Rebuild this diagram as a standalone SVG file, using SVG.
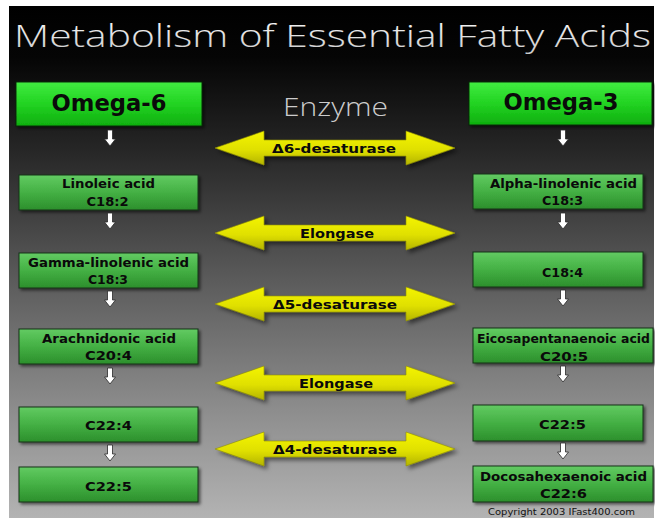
<svg xmlns="http://www.w3.org/2000/svg" width="655" height="518" viewBox="0 0 655 518">
<defs>
<linearGradient id="bg" x1="0" y1="0" x2="0" y2="1">
<stop offset="0" stop-color="#000"/>
<stop offset="0.1" stop-color="#050505"/>
<stop offset="0.28" stop-color="#262626"/>
<stop offset="0.55" stop-color="#5e5e5e"/>
<stop offset="0.8" stop-color="#8f8f8f"/>
<stop offset="1" stop-color="#b3b3b3"/>
</linearGradient>
<linearGradient id="gBox" x1="0" y1="0" x2="0" y2="1">
<stop offset="0" stop-color="#62cb62"/>
<stop offset="0.5" stop-color="#44b044"/>
<stop offset="1" stop-color="#2c8f2c"/>
</linearGradient>
<linearGradient id="gOmega" x1="0" y1="0" x2="0" y2="1">
<stop offset="0" stop-color="#40ec40"/>
<stop offset="0.5" stop-color="#22d322"/>
<stop offset="1" stop-color="#0fae0f"/>
</linearGradient>
<linearGradient id="gYel" x1="0" y1="0" x2="0" y2="1">
<stop offset="0" stop-color="#f4f400"/>
<stop offset="0.55" stop-color="#e0e000"/>
<stop offset="1" stop-color="#b4b400"/>
</linearGradient>
<linearGradient id="gTitle" x1="0" y1="0" x2="0" y2="1">
<stop offset="0" stop-color="#ffffff"/>
<stop offset="1" stop-color="#c8c8c8"/>
</linearGradient>
<filter id="sh" x="-10%" y="-20%" width="130%" height="160%">
<feDropShadow dx="2" dy="2" stdDeviation="1.5" flood-color="#000" flood-opacity="0.55"/>
</filter>
<filter id="shY" x="-10%" y="-30%" width="130%" height="170%">
<feDropShadow dx="3" dy="3" stdDeviation="2" flood-color="#000" flood-opacity="0.5"/>
</filter>
<path id="dbl" d="M-120,0 L-71,-17 L-71,-8 L71,-8 L71,-17 L120,0 L71,17 L71,8 L-71,8 L-71,17 Z"/>
<path id="down" d="M-2.5,0 H2.5 V9 H5.5 L0,16 L-5.5,9 H-2.5 Z"/>
</defs>
<style>
.box{fill:url(#gBox);stroke:#15331a;stroke-width:1;filter:url(#sh)}
.omega{fill:url(#gOmega);stroke:#0c2a0c;stroke-width:1;filter:url(#sh)}
.t{font-family:"DejaVu Sans","Liberation Sans",sans-serif;font-weight:bold;fill:#0a0a0a;text-anchor:middle}
.s12{font-size:12px}
.s13{font-size:13px}
.big{font-size:23px}
.yel{fill:url(#gYel);stroke:#8d8d00;stroke-width:0.6;filter:url(#shY)}
.dn{fill:#fff;stroke:#2a2a2a;stroke-width:0.8}
</style>
<rect x="9" y="6" width="645" height="512" fill="url(#bg)"/>
<text x="14" y="47" font-family="'Open Sans','DejaVu Sans',sans-serif" font-weight="300" font-size="32" fill="url(#gTitle)" textLength="637" lengthAdjust="spacingAndGlyphs">Metabolism of Essential Fatty Acids</text>
<text x="335.5" y="116" font-family="'Open Sans','DejaVu Sans',sans-serif" font-weight="300" font-size="25" fill="#cccccc" text-anchor="middle" textLength="105" lengthAdjust="spacingAndGlyphs">Enzyme</text>

<g id="omega6"><rect class="omega" x="16" y="82" width="186" height="44"/><text class="t big" x="109" y="111" textLength="115" lengthAdjust="spacingAndGlyphs">Omega-6</text></g>
<g id="linoleic"><rect class="box" x="19" y="175" width="179" height="35"/><text class="t s12" x="108.5" y="188" textLength="93" lengthAdjust="spacingAndGlyphs">Linoleic acid</text><text class="t s12" x="107.5" y="205.5" textLength="42" lengthAdjust="spacingAndGlyphs">C18:2</text></g>
<g id="gamma"><rect class="box" x="19" y="253" width="179" height="35"/><text class="t s12" x="108.5" y="267" textLength="161" lengthAdjust="spacingAndGlyphs">Gamma-linolenic acid</text><text class="t s12" x="108" y="284" textLength="40" lengthAdjust="spacingAndGlyphs">C18:3</text></g>
<g id="arachidonic"><rect class="box" x="19" y="329" width="179" height="35"/><text class="t s12" x="109" y="343" textLength="134" lengthAdjust="spacingAndGlyphs">Arachnidonic acid</text><text class="t s12" x="108.5" y="360" textLength="47" lengthAdjust="spacingAndGlyphs">C20:4</text></g>
<g id="c224"><rect class="box" x="19" y="407" width="179" height="35"/><text class="t s13" x="108.5" y="429.5" textLength="47" lengthAdjust="spacingAndGlyphs">C22:4</text></g>
<g id="c225L"><rect class="box" x="19" y="467" width="179" height="35"/><text class="t s13" x="108.5" y="491" textLength="47" lengthAdjust="spacingAndGlyphs">C22:5</text></g>

<g id="omega3"><rect class="omega" x="469" y="82" width="183" height="43"/><text class="t big" x="561" y="110" textLength="115" lengthAdjust="spacingAndGlyphs">Omega-3</text></g>
<g id="alpha"><rect class="box" x="473" y="174" width="170" height="35"/><text class="t s12" x="563.5" y="188" textLength="147" lengthAdjust="spacingAndGlyphs">Alpha-linolenic acid</text><text class="t s12" x="562.5" y="205" textLength="41" lengthAdjust="spacingAndGlyphs">C18:3</text></g>
<g id="c184"><rect class="box" x="473" y="252" width="170" height="35"/><text class="t s13" x="562.5" y="277" textLength="41" lengthAdjust="spacingAndGlyphs">C18:4</text></g>
<g id="epa"><rect class="box" x="473" y="328" width="180" height="35"/><text class="t s12" x="563.5" y="343" textLength="173" lengthAdjust="spacingAndGlyphs">Eicosapentanaenoic acid</text><text class="t s12" x="564" y="360.5" textLength="48" lengthAdjust="spacingAndGlyphs">C20:5</text></g>
<g id="c225R"><rect class="box" x="473" y="405" width="170" height="36"/><text class="t s13" x="562.5" y="429" textLength="47" lengthAdjust="spacingAndGlyphs">C22:5</text></g>
<g id="dha"><rect class="box" x="473" y="466" width="180" height="36"/><text class="t s13" x="563.5" y="481" textLength="167" lengthAdjust="spacingAndGlyphs">Docosahexaenoic acid</text><text class="t s13" x="563.5" y="497.5" textLength="47" lengthAdjust="spacingAndGlyphs">C22:6</text></g>

<g id="enzymes">
<g id="d6"><use href="#dbl" class="yel" transform="translate(335,148)"/><text class="t s13" x="334" y="153" textLength="124" lengthAdjust="spacingAndGlyphs">Δ6-desaturase</text></g>
<g id="elong1"><use href="#dbl" class="yel" transform="translate(335,233)"/><text class="t s13" x="337" y="238" textLength="74" lengthAdjust="spacingAndGlyphs">Elongase</text></g>
<g id="d5"><use href="#dbl" class="yel" transform="translate(335,304)"/><text class="t s13" x="335" y="309" textLength="124" lengthAdjust="spacingAndGlyphs">Δ5-desaturase</text></g>
<g id="elong2"><use href="#dbl" class="yel" transform="translate(335,383)"/><text class="t s13" x="336" y="388" textLength="74" lengthAdjust="spacingAndGlyphs">Elongase</text></g>
<g id="d4"><use href="#dbl" class="yel" transform="translate(335,449)"/><text class="t s13" x="335" y="454" textLength="124" lengthAdjust="spacingAndGlyphs">Δ4-desaturase</text></g>
</g>

<g id="connectors">
<use href="#down" class="dn" transform="translate(110,130)"/>
<use href="#down" class="dn" transform="translate(110,213)"/>
<use href="#down" class="dn" transform="translate(110,291)"/>
<use href="#down" class="dn" transform="translate(110,368)"/>
<use href="#down" class="dn" transform="translate(110,445)"/>
<use href="#down" class="dn" transform="translate(563,130)"/>
<use href="#down" class="dn" transform="translate(563,213)"/>
<use href="#down" class="dn" transform="translate(563,290)"/>
<use href="#down" class="dn" transform="translate(563,366)"/>
<use href="#down" class="dn" transform="translate(563,443)"/>
</g>

<text x="561.5" y="515" font-family="'DejaVu Sans','Liberation Sans',sans-serif" font-size="9" fill="#111" text-anchor="middle" textLength="147" lengthAdjust="spacingAndGlyphs">Copyright 2003 IFast400.com</text>
</svg>
